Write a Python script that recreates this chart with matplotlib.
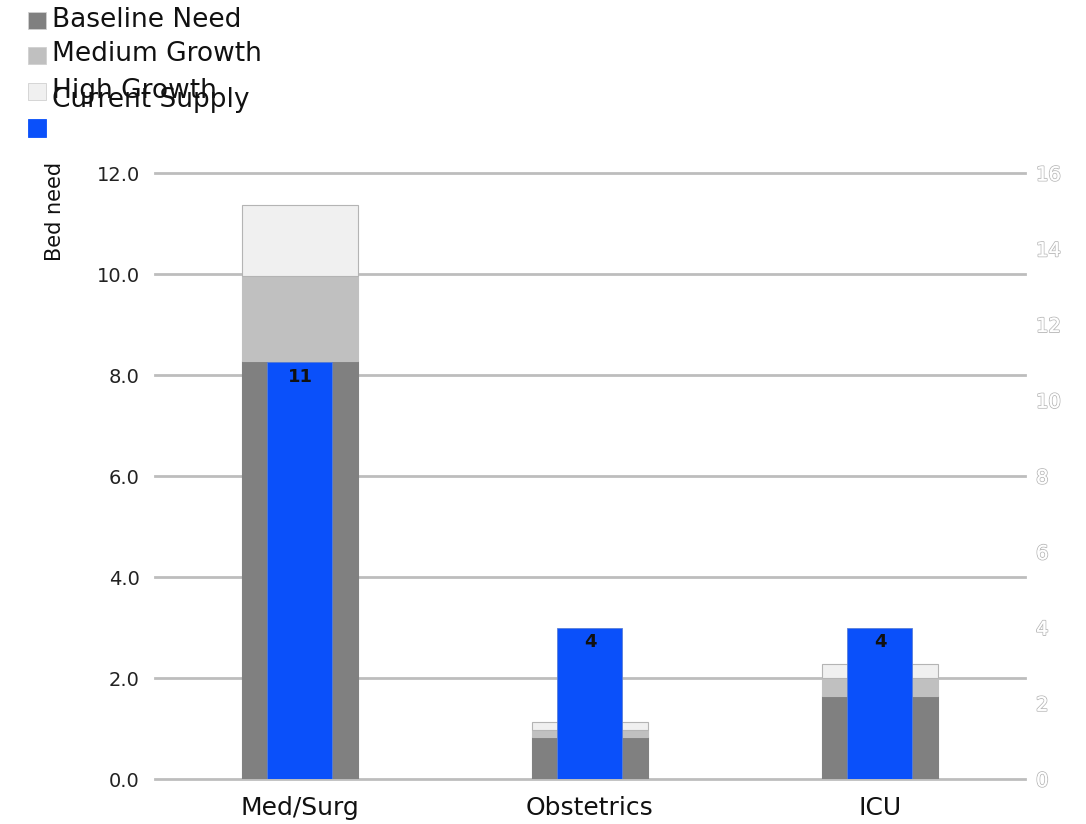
import matplotlib.pyplot as plt
import matplotlib.patheffects as pe
from matplotlib.patches import Rectangle
import numpy as np

plt.rcParams['font.family'] = ['DejaVu Sans']

units = ["Med/Surg", "Obstetrics", "ICU"]
baseline_need = [8.28, 0.83, 1.65]
medium_growth = [1.68, 0.14, 0.35]
high_growth = [1.41, 0.16, 0.28]
current_supply = [11, 4, 4]

left_ticks = [0, 2, 4, 6, 8, 10, 12]
right_ticks = [0, 2, 4, 6, 8, 10, 12, 14, 16]

c_base = "#808080"
c_med = "#c0c0c0"
c_high = "#f0f0f0"
c_supply = "#0a50fa"
edge = "#b4b4b4"

fig = plt.figure(figsize=(10.86, 8.24), dpi=100)
ax = fig.add_axes([0.1427, 0.0546, 0.8011, 0.7354])
x = np.arange(len(units))

b1 = np.array(baseline_need)
b2 = b1 + np.array(medium_growth)
ax.bar(x, baseline_need, width=0.4, color=c_base, edgecolor=c_base, linewidth=0.8, zorder=2)
ax.bar(x, medium_growth, width=0.4, bottom=b1, color=c_med, edgecolor=c_med, linewidth=0.8, zorder=2)
ax.bar(x, high_growth, width=0.4, bottom=b2, color=c_high, edgecolor=edge, linewidth=0.8, zorder=2)

ax.set_ylim(0, 12)
ax.set_xlim(-0.5, 2.5)
ax.set_yticks(left_ticks)
ax.set_yticklabels([f"{v:.1f}" for v in left_ticks], fontsize=14, color="#222222")
ax.yaxis.grid(True, color="#bdbdbd", linewidth=2.0, zorder=0)
for gl in ax.get_ygridlines():
    gl.set_clip_on(False)
ax.set_axisbelow(True)
ax.tick_params(axis="y", length=0, pad=11)
ax.tick_params(axis="x", length=0, pad=12)
ax.set_xticks(x)
ax.set_xticklabels(units, fontsize=18, color="#111111")
for s in ax.spines.values():
    s.set_visible(False)
ax.set_ylabel("Bed need", fontsize=15, color="#111111")
ax.yaxis.set_label_coords(-0.103, 0.936)

# supply bars on the secondary axis
ax2 = ax.twinx()
ax2.set_ylim(0, 16)
bars = ax2.bar(x, current_supply, width=0.224, color=c_supply, edgecolor="#5a7fd8",
               linewidth=0.6, zorder=3)
for rect, v in zip(bars, current_supply):
    ax2.annotate(str(v), (rect.get_x() + rect.get_width() / 2, v),
                 xytext=(0, -4), textcoords="offset points", ha="center", va="top",
                 fontsize=13, fontweight="heavy", color="#111111")
ax2.set_yticks(right_ticks)
ax2.set_yticklabels([str(v) for v in right_ticks], fontsize=14, color="white")
for lbl in ax2.get_yticklabels():
    lbl.set_path_effects([pe.withStroke(linewidth=1.4, foreground="#bcbcbc"), pe.Normal()])
ax2.tick_params(axis="y", length=0, pad=8)
for s in ax2.spines.values():
    s.set_visible(False)

# legend
legend_items = [("Baseline Need", c_base, 0.976), ("Medium Growth", c_med, 0.934),
                ("High Growth", c_high, 0.890)]
for label, col, yc in legend_items:
    fig.patches.append(Rectangle((0.026, yc - 0.0115), 0.016, 0.021, transform=fig.transFigure,
                                 facecolor=col, edgecolor="#d0d0d0", linewidth=0.6))
    fig.text(0.048, yc, label, fontsize=19, va="center", color="#111111")
fig.text(0.048, 0.879, "Current Supply", fontsize=19, va="center", color="#111111")
fig.patches.append(Rectangle((0.026, 0.834), 0.016, 0.021, transform=fig.transFigure,
                             facecolor=c_supply, edgecolor=c_supply, linewidth=0.6))

fig.savefig("out.png", dpi=100)
